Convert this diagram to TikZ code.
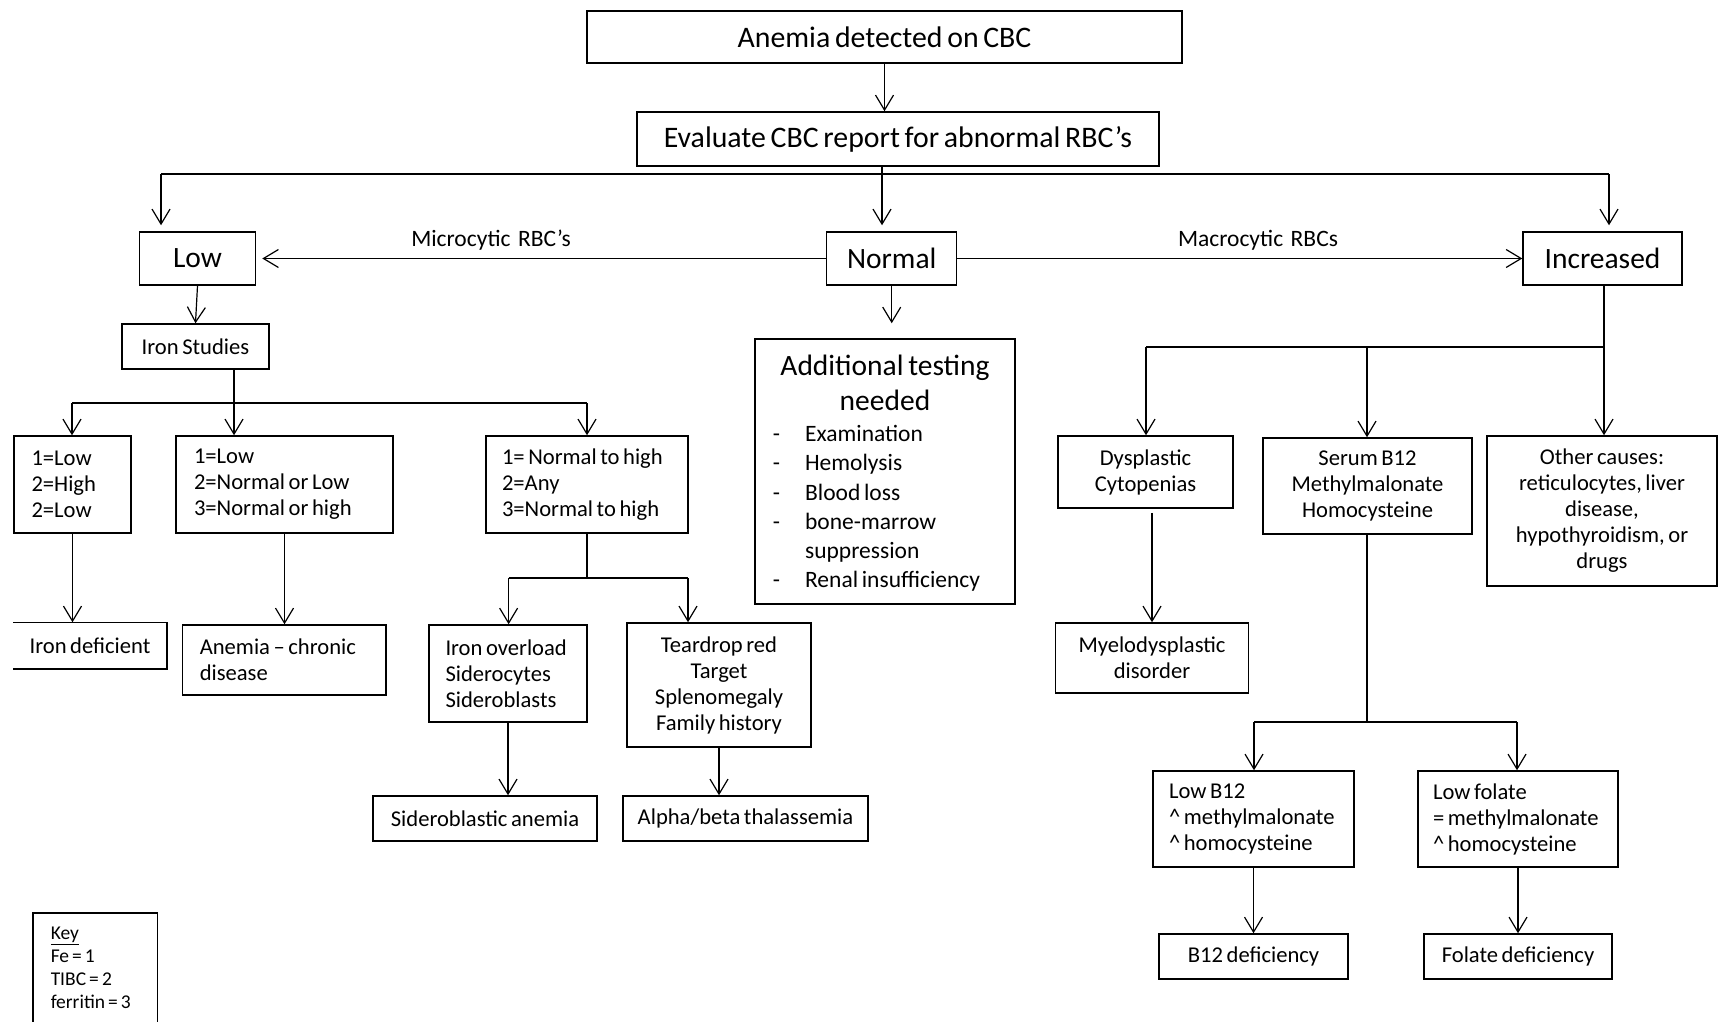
\documentclass[tikz,border=0pt]{standalone}
\usepackage{fontspec}
\setmainfont{Carlito}[WordSpace=0.7]
\usetikzlibrary{arrows.meta}
\newcommand\fzBig{\fontsize{29.8}{35}\selectfont}
\newcommand\fzLvl{\fontsize{29.5}{35}\selectfont}
\newcommand\fzSmall{\fontsize{22.6}{26}\selectfont}
\newcommand\fzLab{\fontsize{23.5}{27}\selectfont}
\newcommand\fzTitle{\fontsize{29.5}{35}\selectfont}
\newcommand\fzItem{\fontsize{23.5}{29.3}\selectfont}
\newcommand\fzKey{\fontsize{19.5}{23}\selectfont}
\begin{document}
\begin{tikzpicture}[x=1pt,y=-1pt,
  box/.style={draw, line width=1.5pt, inner xsep=0pt, inner ysep=0pt, align=flush center, font=\fzSmall},
  lbox/.style={box, align=flush left},
  ln/.style={line width=1.2pt},
  arr/.style={line width=1.2pt, -{Straight Barb[length=15pt,width=18pt]}},
  lab/.style={font=\fzLab, inner sep=0pt}]
\fill[white] (0,0) rectangle (1721,1022);
\useasboundingbox (0,0) rectangle (1721,1022);

% top levels
\node[box, font=\fzBig, minimum width=595pt, minimum height=52pt] (top) at (884.5,37) {Anemia detected on CBC};
\node[box, font=\fzBig, minimum width=522pt, minimum height=54pt] (eval) at (898,139) {Evaluate CBC report for abnormal RBC’s};
\node[box, font=\fzLvl, minimum width=116pt, minimum height=53pt] (low) at (197.5,258.5) {Low};
\node[box, font=\fzLvl, minimum width=130pt, minimum height=53pt] (norm) at (891.7,258.5) {Normal};
\node[box, font=\fzLvl, minimum width=159pt, minimum height=53pt] (incr) at (1602.5,258.5) {Increased};
\node[lab] (mic) at (491,240) {Microcytic\ \ RBC’s};
\node[lab] (mac) at (1258,240) {Macrocytic\ \ RBCs};

% left branch
\node[box, minimum width=147pt, minimum height=45pt] (iron) at (195.5,346.5) {Iron Studies};
\node[lbox, minimum width=117pt, minimum height=97pt, inner xsep=17.5pt, text width=82pt] (boxA) at (72.5,484.5) {1=Low\\2=High\\2=Low};
\node[lbox, minimum width=217pt, minimum height=97pt, inner xsep=18pt, text width=181pt] (boxB) at (284.5,484.5) {1=Low\\2=Normal or Low\\3=Normal or high};
\node[lbox, minimum width=202pt, minimum height=97pt, inner xsep=16pt, text width=170pt] (boxC) at (587,484.5) {1= Normal to high\\2=Any\\3=Normal to high};
\node[box, draw=none, minimum width=152pt, minimum height=45pt] (irondef) at (90,645.5) {Iron deficient};
\draw[line width=1.5pt] (irondef.north west) -- (irondef.north east) -- (irondef.south east) -- (irondef.south west);
\node[lbox, minimum width=203.5pt, minimum height=70pt, inner xsep=17.5pt, text width=168.5pt] (acd) at (284,660) {Anemia – chronic\\disease};
\node[lbox, minimum width=158pt, minimum height=97pt, inner xsep=16.5pt, text width=125pt] (overload) at (508,673.5) {Iron overload\\Siderocytes\\Sideroblasts};
\node[box, minimum width=184pt, minimum height=124pt] (teardrop) at (719,685) {Teardrop red\\Target\\Splenomegaly\\Family history};
\node[box, minimum width=224pt, minimum height=45pt] (sidero) at (485,818.5) {Sideroblastic anemia};
\node[box, minimum width=245pt, minimum height=45pt] (thal) at (745.5,818.5) {Alpha/beta thalassemia};

% key
\node[lbox, draw=none, font=\fzKey, anchor=north west, minimum width=123pt, minimum height=109pt, inner xsep=17pt, text width=89pt] (key) at (33,913) {\underline{Key}\\Fe = 1\\TIBC = 2\\ferritin = 3};
\draw[line width=1.5pt] (key.south west) -- (key.north west) -- (key.north east) -- (key.south east);

% middle
\node[box, minimum width=260pt, minimum height=265pt, inner xsep=10pt, text width=240pt, font=\fzItem] (addl) at (885,471.5)
  {{\fzTitle Additional testing\\ needed\par}\vspace{9pt}
   \hspace*{-17pt}\begin{tabular}{@{}l@{\hspace{25pt}}l@{}}
   -&Examination\\ -&Hemolysis\\ -&Blood loss\\ -&bone-marrow\\ &suppression\\ -&Renal insufficiency
   \end{tabular}\par\vspace{-9pt}\hrule height 0pt depth 0pt};

% right branch
\node[box, minimum width=175pt, minimum height=72pt] (dysp) at (1145.5,472) {Dysplastic\\Cytopenias};
\node[box, minimum width=209pt, minimum height=96pt] (serum) at (1367.5,486) {Serum B12\\Methylmalonate\\Homocysteine};
\node[box, minimum width=230pt, minimum height=150pt] (other) at (1602,511) {Other causes:\\reticulocytes, liver\\disease,\\hypothyroidism, or\\drugs};
\node[box, minimum width=193pt, minimum height=70pt] (myelo) at (1152,658) {Myelodysplastic\\disorder};
\node[lbox, minimum width=201pt, minimum height=96pt, inner xsep=16pt, text width=169pt] (lowb12) at (1253.5,819) {Low B12\\\^{}~methylmalonate\\\^{}~homocysteine};
\node[lbox, minimum width=200pt, minimum height=96pt, inner xsep=15pt, text width=170pt] (lowfol) at (1518,819) {Low folate\\=~methylmalonate\\\^{}~homocysteine};
\node[box, minimum width=189pt, minimum height=45pt] (b12def) at (1253.5,956.5) {B12 deficiency};
\node[box, minimum width=188pt, minimum height=45pt] (foldef) at (1518,956.5) {Folate deficiency};

% connectors: top
\draw[arr] (top.south) -- (top.south |- eval.north);
\coordinate (jM) at (882,174);
\coordinate (jL) at (161,174);
\coordinate (jR) at (1609,174);
\draw[ln] (eval.south -| jM) -- (jM);
\draw[ln] (jL) -- (jR);
\draw[arr, shorten >=6pt] (jL) -- (jL |- low.north);
\draw[arr, shorten >=6pt] (jM) -- (jM |- norm.north);
\draw[arr, shorten >=6pt] (jR) -- (jR |- incr.north);
\draw[arr, shorten >=6pt] (norm.west) -- (low.east);
\draw[arr] (norm.east) -- (incr.west);

% left
\draw[arr] (low.south) -- (iron.north);
\coordinate (jI) at (234,403);
\coordinate (jIA) at (72,403);
\coordinate (jIC) at (587,403);
\draw[ln] (iron.south -| jI) -- (jI);
\draw[ln] (jIA) -- (jIC);
\draw[arr] (jIA) -- (jIA |- boxA.north);
\draw[arr] (jI) -- (jI |- boxB.north);
\draw[arr] (jIC) -- (jIC |- boxC.north);
\draw[arr] (boxA.south) -- (boxA.south |- irondef.north);
\draw[arr] (boxB.south) -- (boxB.south |- acd.north);
\coordinate (jC) at (587,578);
\coordinate (jCO) at (508.6,578);
\coordinate (jCT) at (688,578);
\draw[ln] (boxC.south) -- (jC);
\draw[ln] (jCO) -- (jCT);
\draw[arr] (jCO) -- (jCO |- overload.north);
\draw[arr] (jCT) -- (jCT |- teardrop.north);
\draw[arr] (overload.south) -- (overload.south |- sidero.north);
\draw[arr] (teardrop.south) -- (teardrop.south |- thal.north);

% middle
\draw[arr, shorten >=15pt] (norm.south) -- (norm.south |- addl.north);

% right
\coordinate (jX) at (1604,347);
\coordinate (jXD) at (1146,347);
\coordinate (jXS) at (1367,347);
\draw[ln] (incr.south -| jX) -- (jX);
\draw[ln] (jXD) -- (jX);
\draw[arr] (jXD) -- (jXD |- dysp.north);
\draw[arr] (jXS) -- (jXS |- serum.north);
\draw[arr] (jX) -- (jX |- other.north);
\coordinate (dm) at ([yshift=-4pt]dysp.south);
\draw[arr] (dm -| myelo.north) -- (myelo.north);
\coordinate (jS) at (1367,722);
\coordinate (jSB) at (1254,722);
\coordinate (jSF) at (1517,722);
\draw[ln] (serum.south -| jS) -- (jS);
\draw[ln] (jSB) -- (jSF);
\draw[arr] (jSB) -- (jSB |- lowb12.north);
\draw[arr] (jSF) -- (jSF |- lowfol.north);
\draw[arr] (lowb12.south) -- (b12def.north);
\draw[arr] (lowfol.south) -- (foldef.north);
\end{tikzpicture}
\end{document}
